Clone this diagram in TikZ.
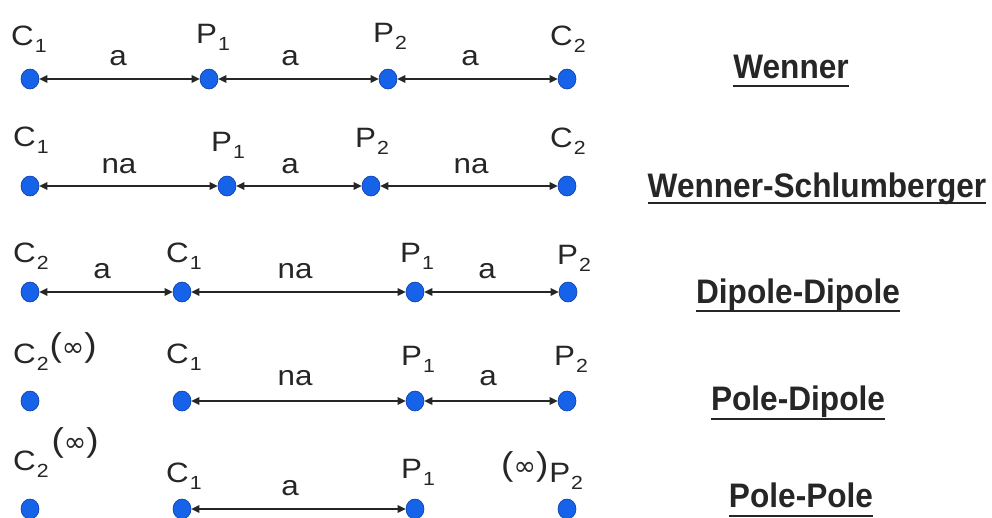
\documentclass[tikz,border=0pt]{standalone}
\usepackage{fontspec}
\setmainfont{Liberation Sans}[FakeStretch=1.12]
\newfontfamily\titlefont{Liberation Sans}[FakeStretch=0.93]
\newfontfamily\infsym{DejaVu Sans}
\usetikzlibrary{arrows.meta,shapes.geometric}

\definecolor{dotblue}{RGB}{22,98,232}
\definecolor{dotedge}{RGB}{10,60,170}
\definecolor{ink}{RGB}{38,38,38}

% electrode name with a lowered index
\newcommand\elab[2]{#1\kern1pt\raisebox{-7pt}{\fontsize{19}{19}\selectfont #2}}
% "(infinity)" marker for a remote electrode
\newcommand\infgrp{{\fontsize{33}{33}\selectfont(\raisebox{0pt}{\infsym\fontsize{27}{27}\selectfont ∞})}}

\tikzset{
  electrode/.style={ellipse, fill=dotblue, draw=dotedge, line width=0.6pt,
    minimum width=18pt, minimum height=20pt, inner sep=0pt},
  elabel/.style={anchor=base west, inner sep=0pt, text=ink,
    font=\fontsize{28}{28}\selectfont},
  spacing/.style={anchor=base, inner sep=0pt, text=ink,
    font=\fontsize{28}{28}\selectfont},
  gap/.style={{Triangle[length=8pt,width=7.5pt]}-{Triangle[length=8pt,width=7.5pt]},
    draw=ink, line width=1.2pt},
  arrname/.style={anchor=base, inner sep=0pt, text=ink,
    font=\titlefont\bfseries\fontsize{34}{34}\selectfont},
  uline/.style={draw=ink, line width=1.8pt},
}

\begin{document}
\begin{tikzpicture}[x=1pt,y=-1pt]
\useasboundingbox (0,0) rectangle (992,517);
\clip (0,0) rectangle (992,517);

% ---------- Wenner ----------
\node[electrode] (w1) at (30,79) {};
\node[electrode] (w2) at (209,79) {};
\node[electrode] (w3) at (388,79) {};
\node[electrode] (w4) at (567,79) {};
\draw[gap] (w1) -- (w2);
\draw[gap] (w2) -- (w3);
\draw[gap] (w3) -- (w4);
\node[elabel] (wl1) at (11,45) {\elab{C}{1}};
\node[elabel] (wl2) at (196,43) {\elab{P}{1}};
\node[elabel] (wl3) at (373,42) {\elab{P}{2}};
\node[elabel] (wl4) at (550,45) {\elab{C}{2}};
\node[spacing] (wd1) at (118,65) {a};
\node[spacing] (wd2) at (290,65) {a};
\node[spacing] (wd3) at (470,65) {a};

% ---------- Wenner-Schlumberger ----------
\node[electrode] (s1) at (30,186) {};
\node[electrode] (s2) at (227,186) {};
\node[electrode] (s3) at (371,186) {};
\node[electrode] (s4) at (567,186) {};
\draw[gap] (s1) -- (s2);
\draw[gap] (s2) -- (s3);
\draw[gap] (s3) -- (s4);
\node[elabel] (sl1) at (13,146) {\elab{C}{1}};
\node[elabel] (sl2) at (211,151) {\elab{P}{1}};
\node[elabel] (sl3) at (355,147) {\elab{P}{2}};
\node[elabel] (sl4) at (550,147) {\elab{C}{2}};
\node[spacing] (sd1) at (119,173) {na};
\node[spacing] (sd2) at (290,173) {a};
\node[spacing] (sd3) at (471,173) {na};

% ---------- Dipole-Dipole ----------
\node[electrode] (d1) at (30,292) {};
\node[electrode] (d2) at (182,292) {};
\node[electrode] (d3) at (415,292) {};
\node[electrode] (d4) at (568,292) {};
\draw[gap] (d1) -- (d2);
\draw[gap] (d2) -- (d3);
\draw[gap] (d3) -- (d4);
\node[elabel] (dl1) at (13,262) {\elab{C}{2}};
\node[elabel] (dl2) at (166,262) {\elab{C}{1}};
\node[elabel] (dl3) at (400,262) {\elab{P}{1}};
\node[elabel] (dl4) at (557,264) {\elab{P}{2}};
\node[spacing] (dd1) at (102,278) {a};
\node[spacing] (dd2) at (295,278) {na};
\node[spacing] (dd3) at (487,278) {a};

% ---------- Pole-Dipole ----------
\node[electrode] (p1) at (30,401) {};
\node[electrode] (p2) at (182,401) {};
\node[electrode] (p3) at (415,401) {};
\node[electrode] (p4) at (567,401) {};
\draw[gap] (p2) -- (p3);
\draw[gap] (p3) -- (p4);
\node[elabel] (pl1) at (13,363) {\elab{C}{2}\kern1pt\raisebox{6.5pt}{\infgrp}};
\node[elabel] (pl2) at (166,363) {\elab{C}{1}};
\node[elabel] (pl3) at (401,365) {\elab{P}{1}};
\node[elabel] (pl4) at (554,365) {\elab{P}{2}};
\node[spacing] (pd1) at (295,385) {na};
\node[spacing] (pd2) at (488,385) {a};

% ---------- Pole-Pole ----------
\node[electrode] (q1) at (30,509) {};
\node[electrode] (q2) at (182,509) {};
\node[electrode] (q3) at (415,509) {};
\node[electrode] (q4) at (567,509) {};
\draw[gap] (q2) -- (q3);
\node[elabel] (ql1) at (13,470) {\elab{C}{2}\kern3pt\raisebox{18.5pt}{\infgrp}};
\node[elabel] (ql2) at (166,482) {\elab{C}{1}};
\node[elabel] (ql3) at (401,478) {\elab{P}{1}};
\node[elabel] (ql4) at (501,482) {\raisebox{6.5pt}{\infgrp}\kern1pt\elab{P}{2}};
\node[spacing] (qd1) at (290,495) {a};

% ---------- array names ----------
\node[arrname] (t1) at (791,78) {Wenner};
\node[arrname] (t2) at (817,197) {Wenner-Schlumberger};
\node[arrname] (t3) at (798,303) {Dipole-Dipole};
\node[arrname] (t4) at (798,410) {Pole-Dipole};
\node[arrname] (t5) at (801,507) {Pole-Pole};
\foreach \t/\d in {t1/8,t2/6,t3/8,t4/9,t5/9}
  \draw[uline] ([yshift=-\d pt]\t.base west) -- ([yshift=-\d pt]\t.base east);
\end{tikzpicture}
\end{document}
